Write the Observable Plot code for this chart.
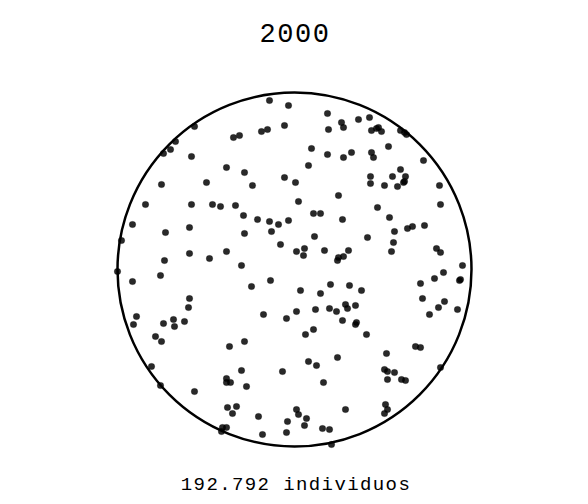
<!DOCTYPE html>
<html><head><meta charset="utf-8">
<script src="https://cdn.jsdelivr.net/npm/d3@7"></script>
<script src="https://cdn.jsdelivr.net/npm/@observablehq/plot@0.6"></script>
<style>
body{margin:0;background:#fff;}
#wrap{width:588px;}
.title{box-sizing:border-box;font-family:"Liberation Mono","DejaVu Sans Mono",monospace;font-size:27px;letter-spacing:1.5px;text-align:center;height:56px;line-height:30px;padding-top:20px;padding-left:2px;color:#000;}
.caption{box-sizing:border-box;font-family:"Liberation Mono","DejaVu Sans Mono",monospace;font-size:19px;letter-spacing:1.4px;text-align:center;height:38px;line-height:21px;padding-top:9px;padding-left:4px;color:#000;}
svg{display:block;}
</style></head>
<body>
<div id="wrap">
<div class="title" id="title"></div>
<div id="chart"></div>
<div class="caption" id="caption"></div>
</div>
<script>
const title = "2000";
const caption = "192.792 individuos";
// population circle: radius in the same units as the points
const circleRadius = 177;
const center = [{x: 0, y: 0}];
// dot positions relative to the circle centre (y up)
const xs = [-100,-61,-119,-124,-131,-103,-68,-133,-88,-149,-103,-82,-74,-59,
-25,-6,33,47,49,64,-55,-33,-27,-10,34,17,33,49,57,14,-50,-42,-10,1,44,4,
75,77,82,84,87,106,110,112,94,77,79,129,106,76,76,98,111,110,109,90,103,145,146,83,
-162,-129,-105,-173,-105,-130,-85,-68,-177,-162,-134,-105,-106,-158,-161,-131,-121,-120,-110,
-139,-133,-65,-143,-134,-100,-68,-68,-64,-67,-62,-58,-72,-68,
-51,-37,-25,-16,-6,19,26,48,-50,-23,20,-14,2,10,9,30,44,43,49,54,-53,-43,-24,6,26,36,55,67,-31,-8,2,21,35,42,51,53,61,48,62,19,61,
95,73,100,113,118,130,99,97,142,146,168,165,166,149,140,126,128,150,144,163,135,
11,-50,43,14,22,-53,-12,29,-48,2,4,12,-7,10,-36,51,-32,-8,28,35,37,
72,121,126,92,90,93,100,93,107,111,146,91,93,90,-73];
const ys = [143,132,128,120,116,113,102,85,87,65,65,65,63,64,
169,164,156,147,142,150,134,138,140,144,140,121,115,112,117,104,97,84,92,87,74,68,
152,139,141,142,138,139,137,135,123,117,112,109,100,93,86,93,93,88,87,84,83,84,65,62,
45,37,42,29,16,9,11,18,-2,-12,-6,-29,-38,-47,-55,-54,-50,-57,-52,
-67,-72,-77,-97,-116,-122,-109,-113,-113,-138,-144,-137,-158,-158,
54,50,48,45,49,56,56,50,36,38,33,25,18,21,14,19,12,9,13,19,4,-17,-11,-21,-24,-15,-16,-21,-45,-49,-42,-40,-39,-42,-35,-39,-36,-51,-53,-60,-55,
52,32,38,41,43,44,27,18,21,17,4,-11,-10,-3,-9,-14,-29,-32,-38,-40,-45,
-65,-72,-88,-92,-96,-101,-102,-113,-117,-140,-145,-149,-152,-156,-147,-140,-165,-163,-159,-160,-175,
-65,-77,-78,-84,-100,-102,-103,-110,-110,-111,-98,-135,-140,-144,-162];
const people = xs.map((x, i) => ({x, y: ys[i]}));

document.getElementById("title").textContent = title;
document.getElementById("caption").textContent = caption;

const cy = 213;
const plot = Plot.plot({
  width: 588,
  height: 410,
  margin: 0,
  x: {domain: [-circleRadius, circleRadius], range: [294 - circleRadius, 294 + circleRadius], axis: null},
  y: {domain: [-circleRadius, circleRadius], range: [cy + circleRadius, cy - circleRadius], axis: null},
  marks: [
    Plot.dot(center, {x: "x", y: "y", r: circleRadius, fill: "none", stroke: "#000", strokeWidth: 2.5}),
    Plot.dot(people, {x: "x", y: "y", r: 3.3, fill: "#000", fillOpacity: 0.84, stroke: "#000", strokeOpacity: 0.25, strokeWidth: 0.6})
  ]
});
document.getElementById("chart").appendChild(plot);
</script>
</body></html>
